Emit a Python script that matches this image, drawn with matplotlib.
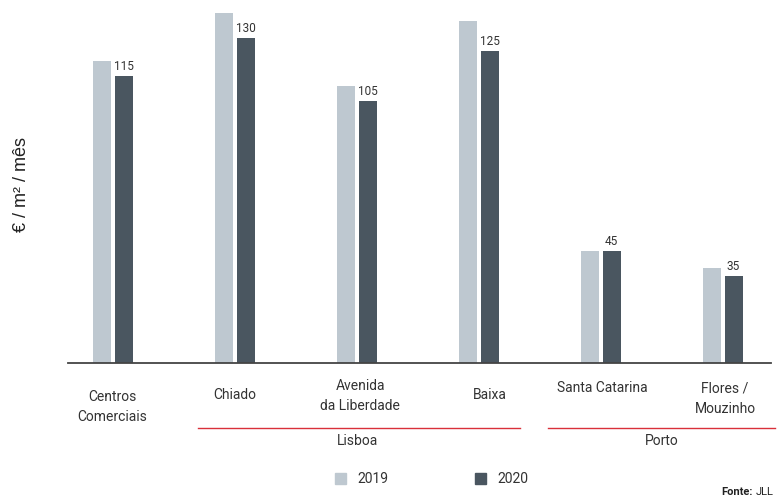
import numpy as np
import matplotlib.pyplot as plt

# dados
categorias = ['Centros\nComerciais', 'Chiado', 'Avenida\nda Liberdade', 'Baixa',
              'Santa Catarina', 'Flores /\nMouzinho']
valores_2019 = [121, 140, 111, 137, 45, 38]
valores_2020 = [115, 130, 105, 125, 45, 35]
rotulos_2020 = ['115', '130', '105', '125', '45', '35']
grupos = ['Lisboa', 'Porto']

cor_2019 = '#BEC8D0'
cor_2020 = '#4A5660'
cor_linha = '#D9303A'
fonte = ['Roboto', 'DejaVu Sans']

fig = plt.figure(figsize=(7.82, 4.97), dpi=100)
ax = fig.add_axes([0, 1 - 363 / 497, 1, 363 / 497])

x = np.arange(len(categorias))
# escala horizontal: 122 px por grupo, centro do primeiro em 112.5 px
px = 122.0
ax.set_xlim(-112.5 / px, (782 - 112.5) / px)
ax.set_ylim(0, 363 / 2.5)

larg = 18 / px
desl = 11 / px
ax.bar(x - desl, valores_2019, width=larg, color=cor_2019)
ax.bar(x + desl, valores_2020, width=larg, color=cor_2020)

for xi, v, r in zip(x, valores_2020, rotulos_2020):
    ax.text(xi + desl, v + 1.0, r, ha='center', va='bottom', fontsize=8.5,
            color='#333333', family=fonte)

# linha de base
ax.plot([(68 - 112.5) / px, (771 - 112.5) / px], [0, 0], color='#444444', lw=1.3,
        clip_on=False)

for s in ax.spines.values():
    s.set_visible(False)
ax.set_xticks([])
ax.set_yticks([])

# posições em px da figura
def fx(px_x):
    return px_x / 782

def fy(px_y):
    return 1 - px_y / 497

pos_rotulo = [(112, 407), (235, 395), (360, 396), (490, 395), (602, 388), (725, 399)]
for (lx, ly), nome in zip(pos_rotulo, categorias):
    fig.text(fx(lx), fy(ly), nome, ha='center', va='center', fontsize=10,
             color='#333333', family=fonte, linespacing=1.55)

# linhas vermelhas e grupos
fig.add_artist(plt.Line2D([fx(198), fx(520)], [fy(428), fy(428)], color=cor_linha, lw=1))
fig.add_artist(plt.Line2D([fx(548), fx(775)], [fy(428), fy(428)], color=cor_linha, lw=1))
fig.text(fx(358), fy(441), grupos[0], ha='center', va='center', fontsize=10,
         color='#333333', family=fonte)
fig.text(fx(662), fy(441), grupos[1], ha='center', va='center', fontsize=10,
         color='#333333', family=fonte)

# eixo y
fig.text(fx(22), fy(185), '€ / m² / mês', rotation=90, ha='center', va='center',
         fontsize=13, color='#222222', family=['Liberation Sans', 'DejaVu Sans'])

# legenda
fig.patches.append(plt.Rectangle((fx(335), fy(484)), 11 / 782, 11 / 497,
                                 transform=fig.transFigure, color=cor_2019))
fig.text(fx(357), fy(479), '2019', ha='left', va='center', fontsize=10,
         color='#333333', family=fonte)
fig.patches.append(plt.Rectangle((fx(475), fy(484)), 11 / 782, 11 / 497,
                                 transform=fig.transFigure, color=cor_2020))
fig.text(fx(497), fy(479), '2020', ha='left', va='center', fontsize=10,
         color='#333333', family=fonte)

fig.text(fx(721), fy(492), 'Fonte:', ha='left', va='center', fontsize=8,
         fontweight='bold', color='#222222', family=fonte)
fig.text(fx(756), fy(492), 'JLL', ha='left', va='center', fontsize=8,
         color='#222222', family=fonte)

fig.savefig('out.png', dpi=100)
